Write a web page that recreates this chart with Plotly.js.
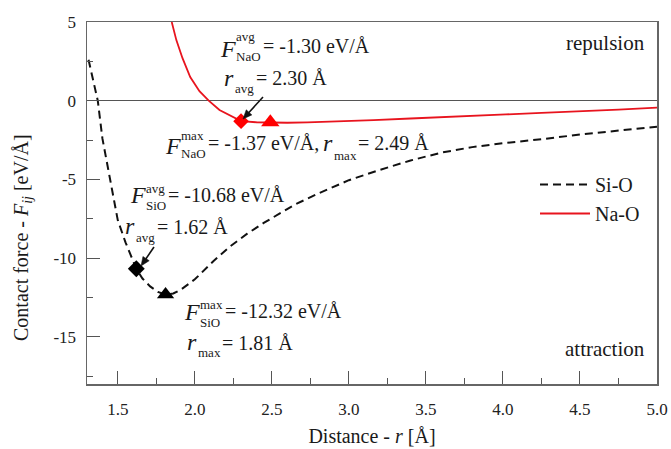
<!DOCTYPE html>
<html>
<head>
<meta charset="utf-8">
<script src="https://cdn.plot.ly/plotly-3.0.1.min.js"></script>
<style>html,body{margin:0;padding:0;background:#fff;}#chart{width:671px;height:449px;}</style>
</head>
<body>
<div id="chart"></div>
<script>
// ---- data ----
const siO_r = [1.31,1.34,1.37,1.40,1.45,1.50,1.55,1.59,1.62,1.66,1.71,1.76,1.81,1.86,1.91,2.00,2.12,2.23,2.34,2.45,2.55,2.65,2.80,3.00,3.20,3.40,3.60,3.80,4.00,4.25,4.50,4.75,5.00];
const siO_F = [2.6,1.3,0.0,-2.4,-5.1,-7.6,-9.0,-9.9,-10.68,-11.3,-11.8,-12.15,-12.32,-12.25,-12.0,-11.35,-10.2,-9.25,-8.45,-7.75,-7.15,-6.6,-5.9,-5.05,-4.4,-3.8,-3.3,-2.95,-2.7,-2.45,-2.15,-1.9,-1.65];
const naO_r = [1.85,1.88,1.92,1.97,2.03,2.09,2.16,2.24,2.30,2.40,2.49,2.60,2.73,2.90,3.16,3.40,3.59,3.80,4.02,4.25,4.46,4.75,5.00];
const naO_F = [5.0,3.85,2.7,1.5,0.6,0.0,-0.59,-1.02,-1.30,-1.37,-1.39,-1.40,-1.38,-1.33,-1.24,-1.13,-1.04,-0.95,-0.87,-0.78,-0.70,-0.57,-0.44];
const siO_avg = {r:1.62, F:-10.68};
const siO_max = {r:1.81, F:-12.32};
const naO_avg = {r:2.30, F:-1.30};
const naO_max = {r:2.49, F:-1.37};
const seriesNames = ['Si-O','Na-O'];
const xTickVals = [1.5,2.0,2.5,3.0,3.5,4.0,4.5,5.0];
const xTickText = ['1.5','2.0','2.5','3.0','3.5','4.0','4.5','5.0'];
const yTickVals = [5,0,-5,-10,-15];
const yTickText = ['5','0','-5','-10','-15'];

// ---- layout helpers ----
const W = 671, H = 449;
const M = {l:87, r:14, t:22, b:65};
const PW = W - M.l - M.r, PH = H - M.t - M.b;
const px = v => (v - M.l) / PW;
const py = v => 1 - (v - M.t) / PH;
const FAM = '"Liberation Serif"';
const INK = '#1a1a1a';

const ctx = document.createElement('canvas').getContext('2d');
function textW(text, size, italic) {
  ctx.font = (italic ? 'italic ' : '') + size + 'px "Liberation Serif"';
  return ctx.measureText(text).width;
}
// piece placed by its left edge and baseline
function piece(x, base, text, size, italic, opts) {
  return Object.assign({
    xref:'paper', yref:'paper', x:px(x), y:py(base - 0.3375 * size),
    text: italic ? '<i>' + text + '</i>' : text,
    showarrow:false, xanchor:'left', yanchor:'middle', borderpad:0,
    font:{family:FAM, size:size, color:INK}
  }, opts || {});
}
const SYM = 24, SMALL = 13, MAIN = 20;
// symbol with stacked sup/sub, followed by remaining text; returns x where the group ends
function group(out, x0, sym, symBase, sup, supBase, sub, subBase, rest, restBase) {
  out.push(piece(x0, symBase, sym, SYM, true));
  const sx = x0 + textW(sym, SYM, true) + 1.5;
  let w = 0;
  if (sup) { out.push(piece(sx, supBase, sup, SMALL)); w = Math.max(w, textW(sup, SMALL)); }
  if (sub) { out.push(piece(sx, subBase, sub, SMALL)); w = Math.max(w, textW(sub, SMALL)); }
  const rx = sx + w + 2;
  out.push(piece(rx, restBase, rest, MAIN));
  return rx + textW(rest, MAIN);
}
// pointer arrow drawn as shapes (tail -> head, in pixels)
function arrow(out, tx, ty, hx, hy) {
  const dx = hx - tx, dy = hy - ty, L = Math.hypot(dx, dy);
  const ux = dx / L, uy = dy / L, nx = -uy, ny = ux;
  const hl = 9, hw = 3.8;
  const bx = hx - hl * ux, by = hy - hl * uy;
  const P = (x, y) => px(x) + ',' + py(y);
  out.push({type:'path', xref:'paper', yref:'paper',
    path:'M' + P(tx, ty) + 'L' + P(bx + 0.5 * ux, by + 0.5 * uy),
    line:{color:'#111', width:1.6}});
  out.push({type:'path', xref:'paper', yref:'paper',
    path:'M' + P(hx, hy) + 'L' + P(bx + hw * nx, by + hw * ny) + 'L' + P(bx - hw * nx, by - hw * ny) + 'Z',
    line:{color:'#111', width:0.5}, fillcolor:'#111'});
}

const anns = [];
// Na-O average
group(anns, 219, 'F', 57, 'avg', 41, 'NaO', 61, '= -1.30 eV/Å', 53);
group(anns, 223, 'r', 86, null, 0, 'avg', 93, '= 2.30 Å', 85);
// Na-O maximum
let xe = group(anns, 164, 'F', 154, 'max', 140, 'NaO', 158, '= -1.37 eV/Å,', 150);
group(anns, xe + 4, 'r', 151, null, 0, 'max', 160, '= 2.49 Å', 150);
// Si-O average
group(anns, 129, 'F', 203, 'avg', 193, 'SiO', 210, '= -10.68 eV/Å', 202);
group(anns, 124, 'r', 234, null, 0, 'avg', 242, '= 1.62 Å', 234);
// Si-O maximum
group(anns, 183, 'F', 320, 'max', 309, 'SiO', 327, '= -12.32 eV/Å', 318);
group(anns, 186, 'r', 350, null, 0, 'max', 357, '= 1.81 Å', 350);
// regions
anns.push(piece(646, 50, 'repulsion', 21, false, {xanchor:'right'}));
anns.push(piece(646, 356, 'attraction', 21, false, {xanchor:'right'}));
// y-axis title
anns.push({xref:'paper', yref:'paper', x:px(22), y:py(238), xanchor:'center', yanchor:'middle',
  textangle:-90, showarrow:false,
  text:'Contact force - <i>F</i><sub><i>ij</i></sub> [eV/Å]',
  font:{family:FAM, size:20, color:INK}});

const shapes = [];
arrow(shapes, 263, 97, 243, 119);
arrow(shapes, 154, 247, 141, 266);

const traces = [
  {x:siO_r, y:siO_F, mode:'lines', name:seriesNames[0],
   line:{color:'#111', width:2, dash:'8px,5px'}},
  {x:naO_r, y:naO_F, mode:'lines', name:seriesNames[1],
   line:{color:'#e8141e', width:1.8}},
  {x:[siO_avg.r], y:[siO_avg.F], mode:'markers', showlegend:false,
   marker:{symbol:'diamond', size:13, color:'#000'}},
  {x:[siO_max.r], y:[siO_max.F], mode:'markers', showlegend:false,
   marker:{symbol:'triangle-up', size:15, color:'#000'}},
  {x:[naO_avg.r], y:[naO_avg.F], mode:'markers', showlegend:false,
   marker:{symbol:'diamond', size:12, color:'#f00'}},
  {x:[naO_max.r], y:[naO_max.F], mode:'markers', showlegend:false,
   marker:{symbol:'triangle-up', size:16, color:'#f00'}}
];

const axisCommon = {
  showgrid:false, showline:true, mirror:true, linecolor:'#666', linewidth:1.5,
  ticks:'inside', ticklen:13, tickwidth:1, tickcolor:'#555',
  tickfont:{family:FAM, size:17, color:'#222'}
};

const layout = {
  width:W, height:H, margin:M,
  paper_bgcolor:'#fff', plot_bgcolor:'#fff',
  font:{family:FAM, color:INK},
  showlegend:true,
  legend:{x:px(535), y:py(165), xanchor:'left', yanchor:'top',
    bgcolor:'rgba(0,0,0,0)', font:{family:FAM, size:20, color:INK},
    itemwidth:50, tracegroupgap:0},
  xaxis:Object.assign({}, axisCommon, {
    range:[1.3,5.0], tickvals:xTickVals, ticktext:xTickText,
    minor:{dtick:0.25, tick0:1.5, ticks:'inside', ticklen:6, tickcolor:'#555', showgrid:false},
    zeroline:false, ticklabelstandoff:9,
    title:{text:'Distance - <i>r</i> [Å]', font:{family:FAM, size:20, color:INK}, standoff:11}
  }),
  yaxis:Object.assign({}, axisCommon, {
    range:[-18,5], tickvals:yTickVals, ticktext:yTickText,
    minor:{dtick:2.5, tick0:0, ticks:'inside', ticklen:6, tickcolor:'#555', showgrid:false},
    zeroline:true, zerolinecolor:'#555', zerolinewidth:1.3,
    ticklabelstandoff:6
  }),
  annotations:anns,
  shapes:shapes
};

Plotly.newPlot('chart', traces, layout, {displayModeBar:false, staticPlot:true});
</script>
</body>
</html>
